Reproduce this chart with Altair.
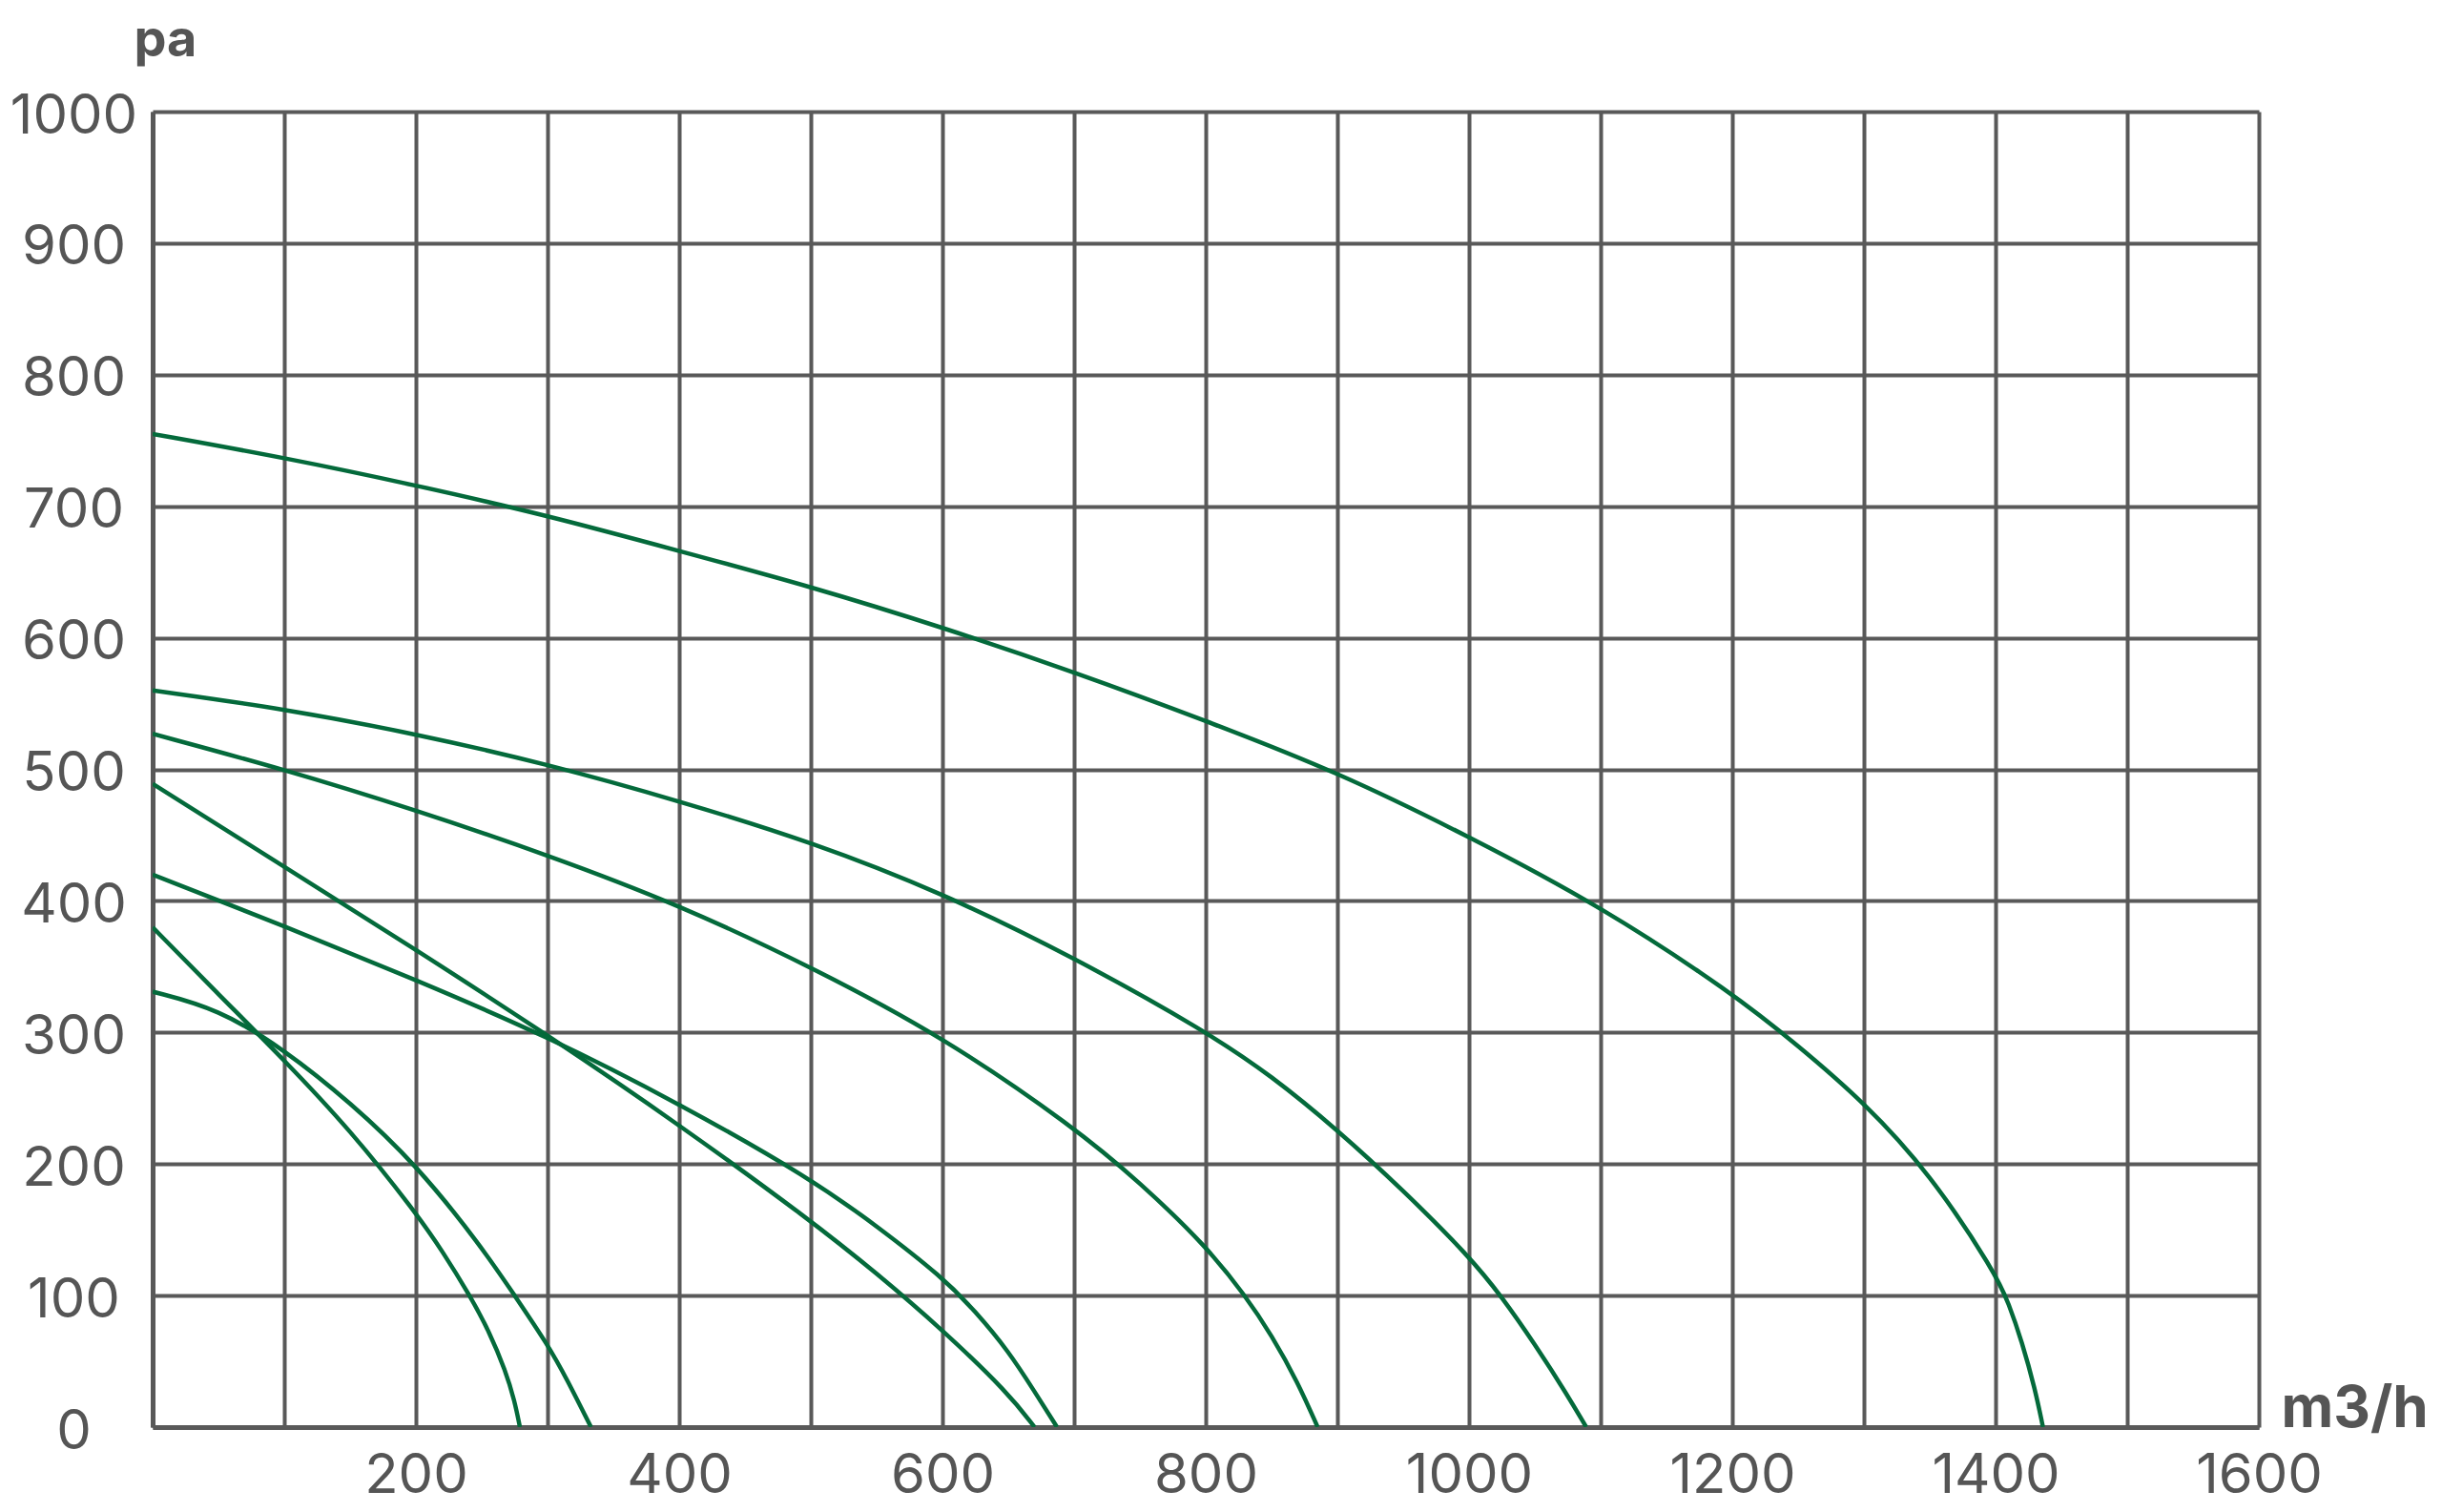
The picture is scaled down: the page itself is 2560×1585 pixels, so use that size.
import altair as alt
import pandas as pd

# ---- data (airflow m3/h vs pressure pa) ----
q_g = [0, 100, 200, 300, 400, 500, 600, 700, 800, 900, 1000, 1100, 1200, 1250, 1300, 1350, 1400, 1410, 1420, 1430, 1436]
p_g = [755, 737, 716, 693, 666, 639, 608, 574, 537, 498, 449, 396, 330, 290, 247, 193, 117, 94, 65, 29, 0]

q_a = [0, 100, 200, 300, 400, 500, 600, 700, 800, 850, 900, 950, 1000, 1025, 1050, 1075, 1089]
p_a = [560, 546, 527, 504, 476, 445, 406, 357, 301, 267, 226, 180, 130, 99, 63, 24, 0]

q_b = [0, 100, 200, 300, 400, 500, 600, 700, 750, 800, 830, 850, 870, 885]
p_b = [527, 500, 469, 435, 397, 350, 297, 228, 186, 138, 100, 70, 34, 0]

q_c = [0, 100, 200, 300, 400, 500, 550, 600, 650, 670]
p_c = [489, 426, 363, 298, 230, 157, 117, 74, 26, 0]

q_d = [0, 100, 200, 300, 400, 500, 550, 600, 625, 650, 670, 687]
p_d = [420, 381, 340, 297, 246, 189, 153, 114, 88, 58, 27, 0]

q_e = [0, 50, 100, 150, 200, 220, 241, 256, 268, 275, 279]
p_e = [380, 329, 279, 226, 163, 134, 100, 72, 43, 20, 0]

q_f = [0, 50, 100, 150, 200, 250, 275, 300, 315, 333]
p_f = [331, 318, 287, 247, 200, 137, 100, 63, 36, 0]

x_ticks = list(range(0, 1700, 100))
y_ticks = list(range(0, 1100, 100))

series = [("g", q_g, p_g), ("a", q_a, p_a), ("b", q_b, p_b), ("c", q_c, p_c),
          ("d", q_d, p_d), ("e", q_e, p_e), ("f", q_f, p_f)]
rows = []
for name, qs, ps in series:
    for i, (q, p) in enumerate(zip(qs, ps)):
        rows.append({"curve": name, "q": q, "p": p, "i": i})
df = pd.DataFrame(rows)

GRID = "#595959"
TEXT = "#555555"
GREEN = "#046A3B"
FONT = "Inter"

chart = alt.Chart(df).mark_line(
    color=GREEN, strokeWidth=4.5, interpolate="basis", clip=True
).encode(
    x=alt.X(
        "q:Q",
        scale=alt.Scale(domain=[0, 1600], nice=False, zero=False),
        axis=alt.Axis(
            values=x_ticks,
            format="d",
            labelExpr="datum.value > 0 && datum.value % 200 == 0 ? datum.label : ''",
            labelFlush=False,
            labelOverlap=False,
            labelBaseline="alphabetic",
            labelPadding=68,
            title="m3/h",
            titleX=2308,
            titleY=-1,
            titleAlign="center",
            titleBaseline="alphabetic",
            titleFontSize=60,
        ),
    ),
    y=alt.Y(
        "p:Q",
        scale=alt.Scale(domain=[0, 1000], nice=False),
        axis=alt.Axis(
            values=y_ticks,
            format="d",
            labelAlign="center",
            labelBaseline="alphabetic",
            labelOffset=22,
            labelPadding=83,
            labelFlush=False,
            labelOverlap=False,
            title="pa",
            titleAngle=0,
            titleX=13,
            titleY=-59,
            titleAlign="center",
            titleBaseline="alphabetic",
            titleFontSize=54,
        ),
    ),
    detail="curve:N",
    order="i:Q",
).properties(
    width=2208,
    height=1379,
    autosize=alt.AutoSizeParams(type="none"),
    padding={"left": 152, "top": 109, "right": 184, "bottom": 81},
).configure_view(
    stroke=None
).configure_axis(
    grid=True,
    gridColor=GRID,
    gridWidth=4,
    gridOpacity=1,
    domainColor=GRID,
    domainWidth=5,
    ticks=False,
    tickSize=0,
    labelFont=FONT,
    labelFontSize=58,
    labelColor=TEXT,
    titleFont=FONT,
    titleFontWeight="bold",
    titleColor=TEXT,
)

chart.save("out.html", embed_options={"renderer": "svg", "actions": False})
